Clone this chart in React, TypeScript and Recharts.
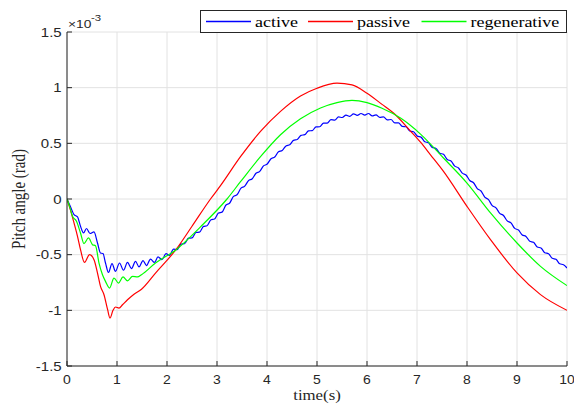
import React from 'react';
import { LineChart, Line, XAxis, YAxis, CartesianGrid, Legend, Label } from 'recharts';

// time axis ticks (s) and pitch ticks (x 10^-3 rad)
const timeTicks = [0, 1, 2, 3, 4, 5, 6, 7, 8, 9, 10];
const pitchTicks = [-1.5, -1, -0.5, 0, 0.5, 1, 1.5];
const seriesNames = ['active', 'passive', 'regenerative'];
const seriesColors = ['#0000ff', '#ff0000', '#00ff00'];

// active (blue), values in 10^-3 rad (with its visible ripple)
const activeT = [0, 0.07, 0.14, 0.21, 0.27, 0.33, 0.39, 0.46, 0.54, 0.61, 0.67, 0.72, 0.77, 0.83, 0.9, 0.97, 1.05, 1.13, 1.21, 1.29, 1.37, 1.44, 1.52, 1.59, 1.67, 1.75, 1.82, 1.9, 1.98, 2.05, 2.13, 2.2, 2.28, 2.35, 2.43, 2.5, 2.58, 2.65, 2.73, 2.8, 2.88, 2.95, 3.03, 3.1, 3.18, 3.25, 3.33, 3.4, 3.48,
  3.555, 3.63, 3.705, 3.78, 3.855, 3.93, 4.005, 4.08, 4.155, 4.23, 4.305, 4.38, 4.455, 4.53, 4.605, 4.68, 4.755, 4.83, 4.905, 4.98,
  5.055, 5.13, 5.205, 5.28, 5.355, 5.43, 5.505, 5.58, 5.655, 5.73, 5.805, 5.88, 5.955, 6.03, 6.105, 6.18, 6.255, 6.33, 6.405, 6.48,
  6.555, 6.63, 6.705, 6.78, 6.855, 6.93, 7.005, 7.08, 7.155, 7.23, 7.305, 7.38, 7.455, 7.53, 7.605, 7.68, 7.755, 7.83, 7.905, 7.98,
  8.055, 8.13, 8.205, 8.28, 8.355, 8.43, 8.505, 8.58, 8.655, 8.73, 8.805, 8.88, 8.955, 9.03, 9.105, 9.18, 9.255, 9.33, 9.405, 9.48,
  9.555, 9.63, 9.705, 9.78, 9.855, 9.93, 10.0];
const activeV = [0, -0.07, -0.14, -0.16, -0.245, -0.305, -0.265, -0.31, -0.295, -0.395, -0.485, -0.49, -0.575, -0.66, -0.58, -0.65, -0.575, -0.64, -0.57, -0.625, -0.56, -0.61, -0.553, -0.598, -0.54, -0.57, -0.52, -0.545, -0.49, -0.507, -0.45, -0.455, -0.405, -0.402, -0.352, -0.35, -0.3, -0.298, -0.246, -0.24, -0.186, -0.18, -0.126, -0.118, -0.054, -0.038, 0.023, 0.038, 0.098,
  0.115, 0.165, 0.182, 0.231, 0.248, 0.297, 0.314, 0.362, 0.377, 0.425, 0.436, 0.477, 0.487, 0.527, 0.534, 0.572, 0.578, 0.612, 0.614, 0.648,
  0.649, 0.682, 0.682, 0.713, 0.709, 0.737, 0.732, 0.754, 0.743, 0.765, 0.751, 0.768, 0.753, 0.768, 0.746, 0.756, 0.734, 0.738, 0.71, 0.714,
  0.683, 0.683, 0.652, 0.649, 0.611, 0.604, 0.565, 0.556, 0.514, 0.505, 0.463, 0.454, 0.412, 0.401, 0.355, 0.341, 0.295, 0.279, 0.232, 0.216,
  0.166, 0.146, 0.094, 0.072, 0.017, -0.006, -0.06, -0.079, -0.129, -0.148, -0.197, -0.215, -0.264, -0.279, -0.323, -0.336, -0.38, -0.389, -0.431, -0.44,
  -0.482, -0.491, -0.533, -0.542, -0.582, -0.59, -0.62];

// passive (red)
const passiveT = [0, 0.07, 0.14, 0.21, 0.27, 0.35, 0.45, 0.54, 0.61, 0.67, 0.74, 0.81, 0.86, 0.92, 0.97, 1.04, 1.11, 1.21, 1.34, 1.49, 1.77, 2.17, 2.5, 2.87, 3.07, 3.47, 3.87, 4.27, 4.67, 5.0, 5.4, 5.7, 6.0, 6.3, 6.53, 6.87, 7.07, 7.27, 7.53, 8.0, 8.47, 9.0, 9.47, 10.0];
const passiveV = [0, -0.1, -0.215, -0.335, -0.455, -0.57, -0.5, -0.545, -0.665, -0.785, -0.86, -0.99, -1.07, -1.0, -0.97, -0.98, -0.95, -0.905, -0.855, -0.81, -0.665, -0.46, -0.245, 0.0, 0.12, 0.38, 0.607, 0.787, 0.925, 0.995, 1.04, 1.025, 0.95, 0.85, 0.772, 0.61, 0.51, 0.397, 0.248, -0.066, -0.365, -0.664, -0.859, -1.0];

// regenerative (green)
const regenT = [0, 0.06, 0.11, 0.19, 0.27, 0.34, 0.43, 0.51, 0.57, 0.64, 0.71, 0.77, 0.85, 0.94, 1.03, 1.12, 1.21, 1.31, 1.41, 1.49, 1.77, 2.17, 2.67, 3.2, 3.47, 3.87, 4.27, 4.67, 5.07, 5.4, 5.7, 6.0, 6.3, 6.67, 7.07, 7.53, 8.0, 8.47, 9.0, 9.47, 10.0];
const regenV = [0, -0.08, -0.155, -0.2, -0.305, -0.4, -0.35, -0.41, -0.42, -0.575, -0.68, -0.74, -0.8, -0.71, -0.755, -0.7, -0.735, -0.695, -0.7, -0.68, -0.575, -0.46, -0.25, 0.0, 0.155, 0.38, 0.577, 0.72, 0.817, 0.865, 0.885, 0.865, 0.815, 0.727, 0.583, 0.368, 0.143, -0.125, -0.395, -0.605, -0.778];

const toData = (ts: number[], vs: number[]) => ts.map((t, i) => ({ t, v: vs[i] }));
const seriesData = [toData(activeT, activeV), toData(passiveT, passiveV), toData(regenT, regenV)];

const AXIS = '#262626';
const GRID = '#e2e2e2';
const SANS = '"Liberation Sans", Arial, Helvetica, sans-serif';
const SERIF = '"Liberation Serif", "Times New Roman", serif';
const SX = 1.2;
const TSX = 1.12;

const XTick = (props: any) => {
  const { x, y, payload } = props;
  return (
    <text x={0} y={0} transform={`translate(${x},${y + 22.5}) scale(${TSX},1)`} textAnchor="middle" fontFamily={SANS} fontSize={12.5} fill={AXIS}>
      {String(payload.value)}
    </text>
  );
};

const YTick = (props: any) => {
  const { x, y, payload } = props;
  return (
    <text x={0} y={0} transform={`translate(${x - 10.3},${y + 4.5}) scale(${TSX + 0.08},1)`} textAnchor="end" fontFamily={SANS} fontSize={12.5} fill={AXIS}>
      {String(payload.value)}
    </text>
  );
};

const EmptyTick = () => <g />;

const XLabel = (props: any) => {
  const vb = props.viewBox || { x: 67, y: 366, width: 500 };
  return (
    <text x={0} y={0} transform={`translate(${vb.x + vb.width / 2},${vb.y + 34}) scale(${SX},1)`} textAnchor="middle" fontFamily={SERIF} fontSize={14} fill={AXIS}>
      time(s)
    </text>
  );
};

const YLabel = (props: any) => {
  const vb = props.viewBox || { x: 7, y: 32, height: 334 };
  return (
    <text x={0} y={0} transform={`translate(${vb.x + 18},${vb.y + vb.height / 2}) scale(${SX},1) rotate(-90)`} textAnchor="middle" fontFamily={SERIF} fontSize={15} fill={AXIS}>
      Pitch angle (rad)
    </text>
  );
};

const legendX = [206, 308, 421.5];

const LegendContent = (props: any) => {
  const payload = (props.payload || []) as any[];
  const items = seriesNames.map((name, i) => {
    const p = payload.find((q) => q.value === name);
    return { name, color: p ? p.color : seriesColors[i] };
  });
  return (
    <svg width={574} height={407} style={{ position: 'absolute', left: 0, top: 0, overflow: 'visible' }}>
      <text x={0} y={0} transform={`translate(68,28) scale(${SX},1)`} fontFamily={SANS} fontSize={11.5} fill={AXIS}>
        ×10
      </text>
      <text x={0} y={0} transform={`translate(91,21) scale(${SX},1)`} fontFamily={SANS} fontSize={9.5} fill={AXIS}>
        -3
      </text>
      <rect x={200.5} y={10.5} width={366} height={22} fill="#ffffff" stroke={AXIS} strokeWidth={1} />
      {items.map((it, i) => (
        <g key={it.name}>
          <line x1={legendX[i]} x2={legendX[i] + 45} y1={21.5} y2={21.5} stroke={it.color} strokeWidth={1.3} />
          <text x={0} y={0} transform={`translate(${legendX[i] + 49},27) scale(${SX},1)`} fontFamily={SERIF} fontSize={15} fill="#000">
            {it.name}
          </text>
        </g>
      ))}
    </svg>
  );
};

export default function App() {
  return (
    <div style={{ position: 'absolute', left: 0, top: 0, width: 574, height: 407, background: '#fff' }}>
      <LineChart width={574} height={407} margin={{ top: 32, right: 7, bottom: 11, left: 7 }}>
        <CartesianGrid xAxisId="bottom" yAxisId="left" stroke={GRID} strokeWidth={1} />
        <XAxis
          xAxisId="bottom"
          dataKey="t"
          type="number"
          domain={[0, 10]}
          ticks={timeTicks}
          interval={0}
          height={30}
          tickSize={-5}
          tickMargin={0}
          stroke={AXIS}
          tickLine={{ stroke: AXIS }}
          axisLine={{ stroke: AXIS }}
          tick={XTick}
          allowDataOverflow
        >
          <Label content={XLabel} />
        </XAxis>
        <XAxis
          xAxisId="top"
          orientation="top"
          dataKey="t"
          type="number"
          domain={[0, 10]}
          ticks={timeTicks}
          interval={0}
          height={0}
          tickSize={-5}
          tickMargin={0}
          stroke={AXIS}
          tick={EmptyTick}
          allowDataOverflow
        />
        <YAxis
          yAxisId="left"
          type="number"
          domain={[-1.5, 1.5]}
          ticks={pitchTicks}
          interval={0}
          width={60}
          tickSize={-5}
          tickMargin={0}
          stroke={AXIS}
          tick={YTick}
          allowDataOverflow
        >
          <Label content={YLabel} />
        </YAxis>
        <YAxis
          yAxisId="right"
          orientation="right"
          type="number"
          domain={[-1.5, 1.5]}
          ticks={pitchTicks}
          interval={0}
          width={0}
          tickSize={-5}
          tickMargin={0}
          stroke={AXIS}
          tick={EmptyTick}
          allowDataOverflow
        />
        <Legend
          layout="horizontal"
          verticalAlign="middle"
          align="center"
          wrapperStyle={{ position: 'absolute', left: 0, top: 0, width: 574, height: 407, pointerEvents: 'none' }}
          content={LegendContent}
        />
        {seriesNames.map((name, i) => (
          <Line
            key={name}
            xAxisId="bottom"
            yAxisId="left"
            data={seriesData[i]}
            dataKey="v"
            name={name}
            type="monotone"
            stroke={seriesColors[i]}
            strokeWidth={1.2}
            dot={false}
            activeDot={false}
            isAnimationActive={false}
          />
        ))}
      </LineChart>
    </div>
  );
}
